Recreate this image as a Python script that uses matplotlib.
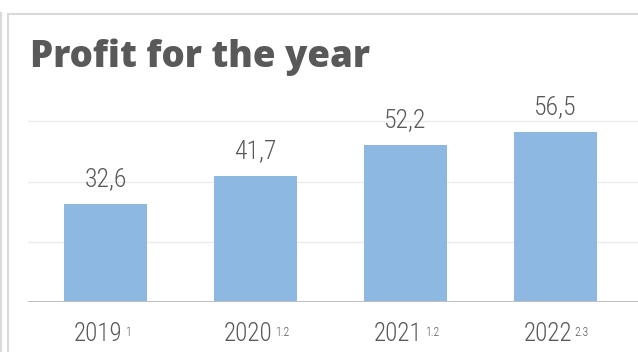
import matplotlib.pyplot as plt
from matplotlib.lines import Line2D
from matplotlib import font_manager

# dados
anos = ['2019', '2020', '2021', '2022']
notas = ['1', '1.2', '1.2', '2.3']
lucro = [32.6, 41.7, 52.2, 56.5]
rotulos = ['32,6', '41,7', '52,2', '56,5']

cor_barra = '#8DB8E1'
cor_texto = '#595959'

fontes = font_manager.fontManager.ttflist
nomes = {f.name for f in fontes}

def escolher(*opcoes):
    for o in opcoes:
        if o in nomes:
            return o
    return 'DejaVu Sans'

# fonte estreita e leve para numeros
fonte_fina, peso_fino = 'Liberation Sans Narrow', 400
for cand in ['Roboto Condensed', 'Encode Sans Condensed', 'Barlow Semi Condensed', 'Open Sans Condensed']:
    if any(f.name == cand and f.style == 'normal' and (isinstance(f.weight, int) and f.weight <= 300 or f.weight in ('light', 'extra-light')) for f in fontes):
        fonte_fina, peso_fino = cand, 300
        break
fonte_titulo = escolher('Open Sans', 'Lato')

W, H = 638, 352
fig = plt.figure(figsize=(W / 100, H / 100), dpi=100)

# eixo: esquerda 28px, direita 638px, base em y=302, 3.01 px por unidade
y_topo = 70
ax = fig.add_axes([28 / W, (H - 302) / H, (W - 28) / W, y_topo * 3.01 / H])
x = range(len(anos))
ax.bar(x, lucro, width=0.553, color=cor_barra, zorder=2)
ax.set_xlim(-0.517, 3.55)
ax.set_ylim(0, y_topo)
for v in [20, 40, 60]:
    ax.axhline(v, color='#EBEBEB', lw=1, zorder=1)
ax.axhline(0, color='#BFBFBF', lw=2.2, zorder=3)
for s in ax.spines.values():
    s.set_visible(False)
ax.set_yticks([])
ax.set_xticks([])

for i, (v, r) in enumerate(zip(lucro, rotulos)):
    ax.annotate(r, (i, v), xytext=(0, 13), textcoords='offset pixels',
                ha='center', va='bottom', fontsize=18.5, color=cor_texto,
                family=fonte_fina, fontweight=peso_fino)

# rotulos do eixo x com notas sobrescritas
fig.canvas.draw()
for i, (ano, nota) in enumerate(zip(anos, notas)):
    t = ax.annotate(ano, (i, 0), xytext=(-7, -32), textcoords='offset pixels',
                    ha='center', va='center', fontsize=18, color=cor_texto,
                    family=fonte_fina, fontweight=peso_fino, annotation_clip=False)
    bb = t.get_window_extent(renderer=fig.canvas.get_renderer())
    fig.text((bb.x1 + 2) / W, (bb.y1 - 4) / H, nota, ha='left', va='top',
             fontsize=8.5, color=cor_texto, family=fonte_fina, fontweight=peso_fino)

fig.text(30 / W, (H - 67) / H, 'Profit for the year', ha='left', va='baseline',
         fontsize=26.4, fontweight=800, color=cor_texto, family=fonte_titulo)

# molduras
cor_borda = '#DADADA'
fig.add_artist(Line2D([1 / W, 1 / W], [0, (H - 13) / H], color=cor_borda, lw=1.5))
fig.add_artist(Line2D([8 / W, 8 / W], [0, (H - 14) / H], color=cor_borda, lw=1.5))
fig.add_artist(Line2D([8 / W, 1], [(H - 14) / H, (H - 14) / H], color=cor_borda, lw=1.5))

fig.savefig('out.png', dpi=100)
